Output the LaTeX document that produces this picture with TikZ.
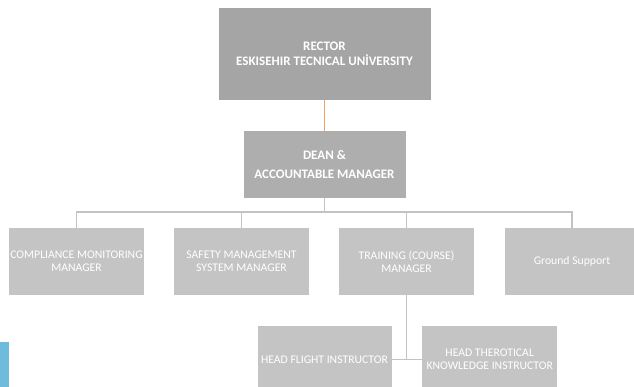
\documentclass[tikz,border=0pt]{standalone}
\usepackage{fontspec}
\setmainfont{Carlito}
\usepackage{xcolor}
\usepackage{tikz}
\usetikzlibrary{positioning,calc}

\definecolor{rectorgray}{HTML}{A5A5A5}
\definecolor{deangray}{HTML}{AEAEAE}
\definecolor{unitgray}{HTML}{C4C4C4}
\definecolor{linkgray}{HTML}{C3C3C3}
\definecolor{linkorange}{HTML}{F5A066}
\definecolor{tabblue}{HTML}{6FBBDB}

\tikzset{
  headbox/.style={fill=#1, text=white, align=center, inner sep=0pt,
    font=\fontsize{13}{15}\selectfont\bfseries},
  unitbox/.style={fill=unitgray, text=white, align=center, inner sep=0pt,
    minimum width=135, minimum height=67,
    font=\fontsize{11.7}{13.4}\selectfont},
  link/.style={draw=linkgray, line width=1.5pt},
  toplink/.style={draw=linkorange, line width=1.5pt}
}

\begin{document}
\begin{tikzpicture}[x=1pt, y=-1pt]
    \useasboundingbox (0,0) rectangle (634,387);
    \clip (0,0) rectangle (634,387);

    % Top of the chart
    \node[headbox=rectorgray, minimum width=212, minimum height=92] (rector) at (324.5,54)
        {RECTOR\\ESKISEHIR TECNICAL UNİVERSITY};
    \node[headbox=deangray, minimum width=162, minimum height=67] (dean) at (324.5,164.5)
        {DEAN \&\\[4pt]ACCOUNTABLE MANAGER};

    % Managers row
    \node[unitbox] (cmm)  at (76.5,261.5)  {COMPLIANCE MONITORING\\MANAGER};
    \node[unitbox] (smsm) at (241.5,261.5) {SAFETY MANAGEMENT\\SYSTEM MANAGER};
    \node[unitbox] (tcm)  at (406.5,261.5) {TRAINING (COURSE)\\MANAGER};
    \node[unitbox] (gs)   at (572,261.5)   {Ground Support};

    % Instructors under training
    \node[unitbox, minimum width=134] (hfi) at (324.5,359.5) {HEAD FLIGHT INSTRUCTOR};
    \node[unitbox] (hti) at (489.7,359.5) {HEAD THEROTICAL\\KNOWLEDGE INSTRUCTOR};

    % Side tab
    \fill[tabblue] (0,342) rectangle (9,387);

    % Connections
    \draw[toplink] (rector) -- (dean);
    \foreach \n in {cmm,smsm,tcm,gs}
        \draw[link] (dean.south) -- ++(0,14) -| (\n.north);
    \draw[link] (tcm.south) |- (hfi.east);
    \draw[link] (tcm.south) |- (hti.west);

\end{tikzpicture}
\end{document}
